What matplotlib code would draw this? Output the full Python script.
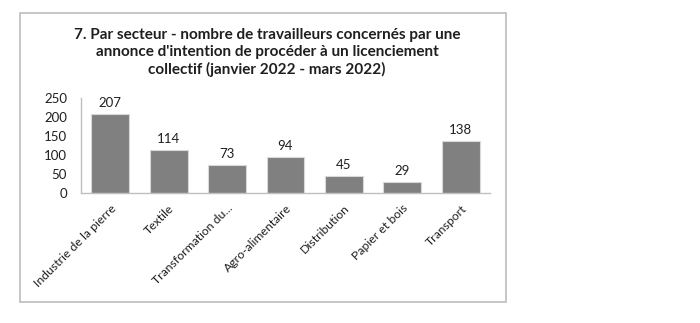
import matplotlib
matplotlib.use("Agg")
import matplotlib.pyplot as plt
from matplotlib.patches import Rectangle

# ---- data ----
categories = ["Industrie de la pierre", "Textile", "Transformation du...",
              "Agro-alimentaire", "Distribution", "Papier et bois", "Transport"]
values = [207, 114, 73, 94, 45, 29, 138]
yticks = [0, 50, 100, 150, 200, 250]
title = ("7. Par secteur - nombre de travailleurs concernés par une\n"
         "annonce d'intention de procéder à un licenciement\n"
         "collectif (janvier 2022 - mars 2022)")

plt.rcParams["font.family"] = ["Lato", "DejaVu Sans"]
TXT = "#1f1f1f"

fig = plt.figure(figsize=(7.0, 3.23), dpi=100)

# outer chart border
fig.patches.append(Rectangle((20 / 700, 1 - 302 / 323), 486 / 700, 289 / 323,
                             transform=fig.transFigure, fill=False,
                             edgecolor="#bdbdbd", lw=1.2))

ax = fig.add_axes([81 / 700, 1 - 193 / 323, 409 / 700, 95 / 323])
x = range(len(categories))
bars = ax.bar(x, values, width=0.65, color="#808080", edgecolor="#d9d9d9", lw=0.8)
for xi, v in zip(x, values):
    ax.text(xi, v + 13, str(v), ha="center", va="bottom", fontsize=9.5, color=TXT)

ax.set_xlim(-0.5, len(categories) - 0.5)
ax.set_ylim(0, 250)
ax.set_yticks(yticks)
ax.set_yticklabels([str(t) for t in yticks], fontsize=9.5, color=TXT)
ax.set_xticks(list(x))
ax.set_xticklabels(categories, rotation=45, ha="right", rotation_mode="anchor",
                   fontsize=8.8, color=TXT)
ax.tick_params(axis="both", length=0, pad=7)
ax.tick_params(axis="y", pad=10)
for s in ["top", "right"]:
    ax.spines[s].set_visible(False)
for s in ["left", "bottom"]:
    ax.spines[s].set_color("#bfbfbf")
    ax.spines[s].set_linewidth(1.0)

fig.text(267 / 700, 1 - 28 / 323, title, ha="center", va="top", fontsize=11,
         fontweight="bold", color=TXT, linespacing=1.25)

fig.savefig("out.png", dpi=100)
